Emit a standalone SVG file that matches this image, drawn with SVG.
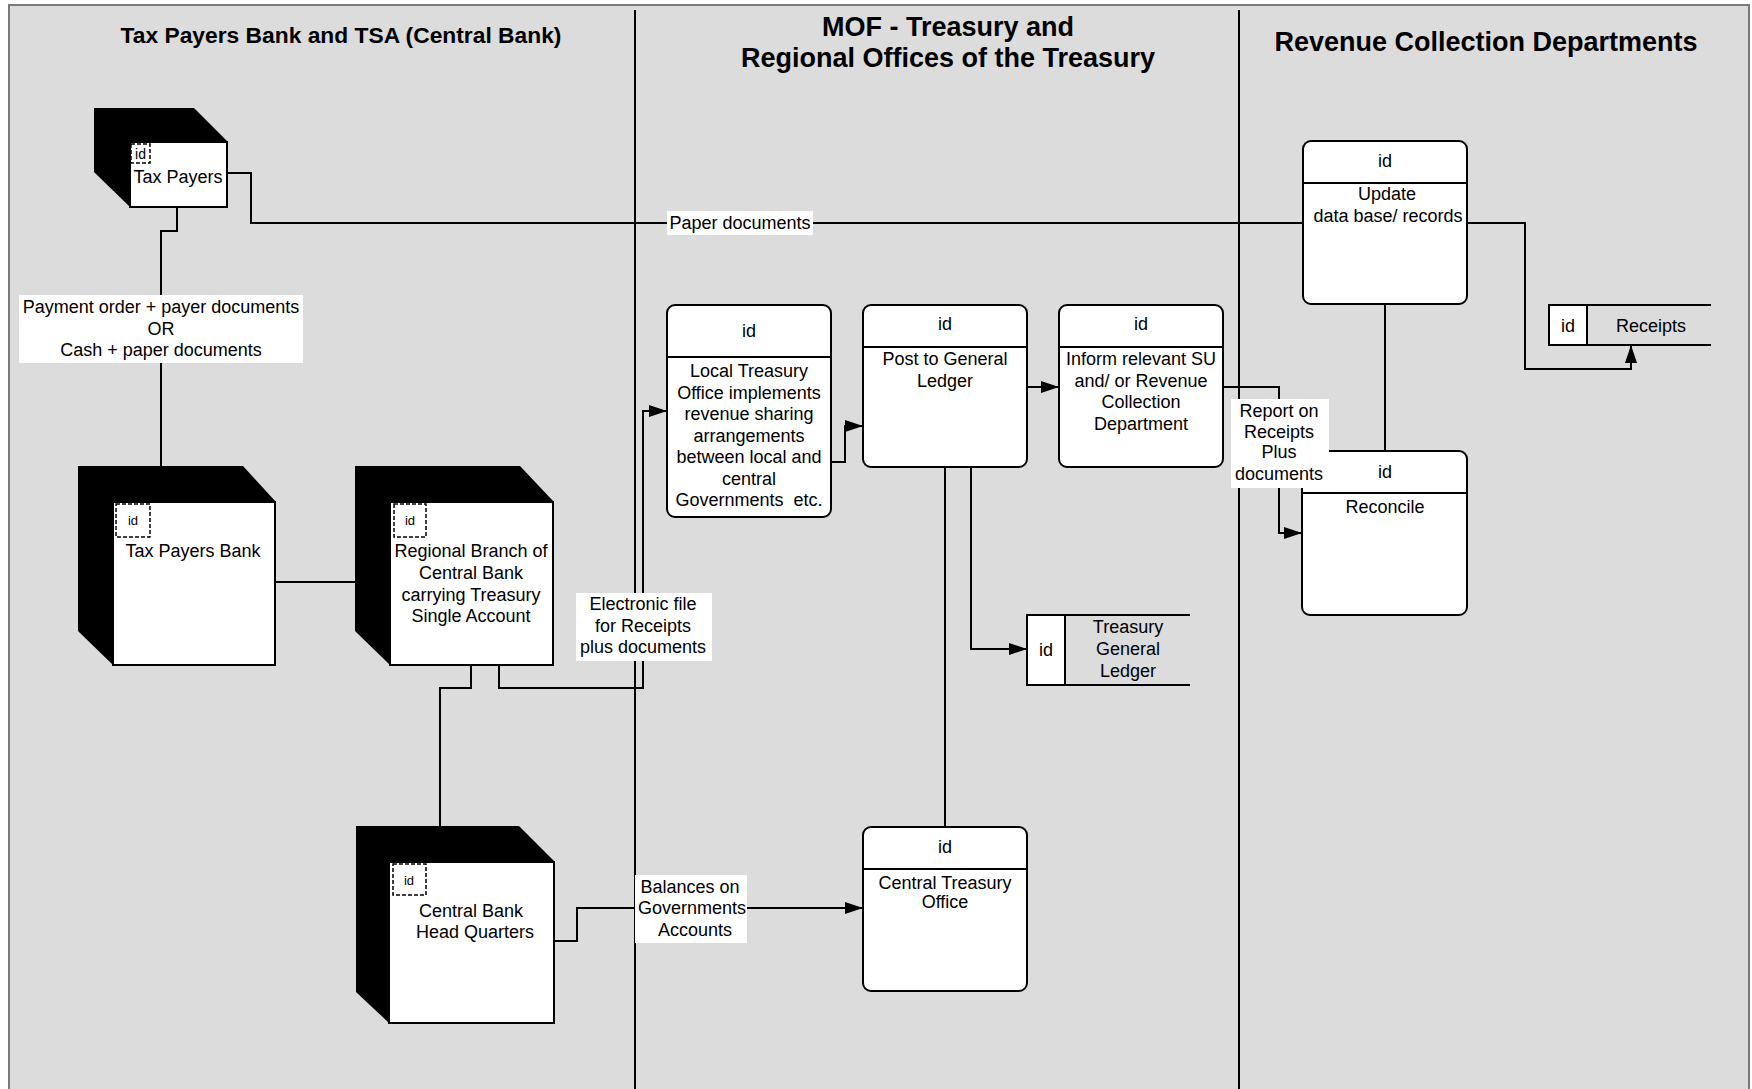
<svg xmlns="http://www.w3.org/2000/svg" width="1752" height="1089" viewBox="0 0 1752 1089">
<defs>
<style>
text{font-family:"Liberation Sans",Arial,sans-serif;font-size:18px;fill:#000;text-anchor:middle}
.title{font-weight:bold;font-size:27px}
.proc{fill:#fff;stroke:#000;stroke-width:2}
.box{fill:#fff;stroke:#000;stroke-width:2}
.shadow{fill:#000}
.idbox{fill:none;stroke:#000;stroke-width:1.5;stroke-dasharray:4 2}
.sid{font-size:13px}
.ln{fill:none;stroke:#000;stroke-width:2}
.lbl{fill:#fff}
.lane{stroke:#000;stroke-width:2}
</style>
<marker id="arr" markerUnits="userSpaceOnUse" markerWidth="18" markerHeight="12" refX="18" refY="6" orient="auto">
<path d="M0,0 L18,6 L0,12 Z" fill="#000"/>
</marker>
</defs>
<rect x="0" y="0" width="1752" height="1089" fill="#fff"/>
<rect x="9" y="5" width="1740" height="1100" fill="#dcdcdc" stroke="#7a7a7a" stroke-width="2"/>
<g id="lanes">
<line class="lane" x1="635" y1="10" x2="635" y2="1089"/>
<line class="lane" x1="1239" y1="10" x2="1239" y2="1089"/>
<text class="title" x="341" y="43" style="font-size:22.8px">Tax Payers Bank and TSA (Central Bank)</text>
<text class="title" x="948" y="36">MOF - Treasury and</text>
<text class="title" x="948" y="67">Regional Offices of the Treasury</text>
<text class="title" x="1486" y="51">Revenue Collection Departments</text>
</g>
<g id="connectors">
<path class="ln" d="M177,207 V231 H161 V466"/>
<path class="ln" d="M227,173 H251 V223 H1303"/>
<path class="ln" d="M275,582 H355"/>
<path class="ln" d="M471,665 V688 H440 V826"/>
<path class="ln" d="M499,665 V688 H643 V411 H667" marker-end="url(#arr)"/>
<path class="ln" d="M554,941 H577 V908 H863" marker-end="url(#arr)"/>
<path class="ln" d="M831,462 H845 V426 H863" marker-end="url(#arr)"/>
<path class="ln" d="M1027,387 H1059" marker-end="url(#arr)"/>
<path class="ln" d="M971,467 V649 H1027" marker-end="url(#arr)"/>
<path class="ln" d="M945,467 V827"/>
<path class="ln" d="M1223,387 H1279 V533 H1302" marker-end="url(#arr)"/>
<path class="ln" d="M1385,304 V451"/>
<path class="ln" d="M1467,223 H1525 V369 H1631 V345" marker-end="url(#arr)"/>
</g>
<g id="tax-payers">
<polygon class="shadow" points="94,108 194,108 228,142 228,207 130,207 94,172"/>
<rect class="box" x="130" y="142" width="97" height="65"/>
<rect class="idbox" x="131" y="144" width="19" height="19"/>
<text x="140.5" y="159" style="font-size:14px">id</text>
<text x="178" y="183">Tax Payers</text>
</g>
<g id="tax-payers-bank">
<polygon class="shadow" points="78,466 243,466 276,502 276,665 113,665 78,631"/>
<rect class="box" x="113" y="502" width="162" height="163"/>
<rect class="idbox" x="116" y="504" width="34" height="33"/>
<text class="sid" x="133" y="525">id</text>
<text x="193" y="557">Tax Payers Bank</text>
</g>
<g id="regional-branch">
<polygon class="shadow" points="355,466 520,466 554,502 554,665 390,665 355,631"/>
<rect class="box" x="390" y="502" width="163" height="163"/>
<rect class="idbox" x="394" y="504" width="32" height="33"/>
<text class="sid" x="410" y="525">id</text>
<text x="471" y="557">Regional Branch of</text>
<text x="471" y="579">Central Bank</text>
<text x="471" y="601">carrying Treasury</text>
<text x="471" y="622">Single Account</text>
</g>
<g id="central-bank-hq">
<polygon class="shadow" points="356,826 519,826 555,862 555,1023 389,1023 356,992"/>
<rect class="box" x="389" y="862" width="165" height="161"/>
<rect class="idbox" x="393" y="864" width="33" height="31"/>
<text class="sid" x="409" y="885">id</text>
<text x="471" y="917">Central Bank</text>
<text x="475" y="938">Head Quarters</text>
</g>
<g id="local-treasury">
<rect class="proc" x="667" y="305" width="164" height="212" rx="8"/>
<line class="ln" x1="667" y1="357" x2="831" y2="357"/>
<text x="749" y="337">id</text>
<text x="749" y="377">Local Treasury</text>
<text x="749" y="398.5">Office implements</text>
<text x="749" y="420">revenue sharing</text>
<text x="749" y="441.5">arrangements</text>
<text x="749" y="463">between local and</text>
<text x="749" y="484.5">central</text>
<text x="749" y="506" xml:space="preserve">Governments  etc.</text>
</g>
<g id="post-gl">
<rect class="proc" x="863" y="305" width="164" height="162" rx="8"/>
<line class="ln" x1="863" y1="347" x2="1027" y2="347"/>
<text x="945" y="330">id</text>
<text x="945" y="365">Post to General</text>
<text x="945" y="387">Ledger</text>
</g>
<g id="inform">
<rect class="proc" x="1059" y="305" width="164" height="162" rx="8"/>
<line class="ln" x1="1059" y1="347" x2="1223" y2="347"/>
<text x="1141" y="330">id</text>
<text x="1141" y="365">Inform relevant SU</text>
<text x="1141" y="387">and/ or Revenue</text>
<text x="1141" y="408">Collection</text>
<text x="1141" y="430">Department</text>
</g>
<g id="treasury-gl">
<rect x="1027" y="615" width="38" height="70" fill="#fff"/>
<path class="ln" d="M1190,615 H1027 V685 H1190 M1065,615 V685"/>
<text x="1046" y="656">id</text>
<text x="1128" y="633">Treasury</text>
<text x="1128" y="655">General</text>
<text x="1128" y="677">Ledger</text>
</g>
<g id="central-treasury-office">
<rect class="proc" x="863" y="827" width="164" height="164" rx="8"/>
<line class="ln" x1="863" y1="869" x2="1027" y2="869"/>
<text x="945" y="853">id</text>
<text x="945" y="889">Central Treasury</text>
<text x="945" y="908">Office</text>
</g>
<g id="update">
<rect class="proc" x="1303" y="141" width="164" height="163" rx="8"/>
<line class="ln" x1="1303" y1="183" x2="1467" y2="183"/>
<text x="1385" y="167">id</text>
<text x="1387" y="200">Update</text>
<text x="1388" y="222">data base/ records</text>
</g>
<g id="receipts">
<rect x="1549" y="305" width="38" height="40" fill="#fff"/>
<path class="ln" d="M1711,305 H1549 V345 H1711 M1587,305 V345"/>
<text x="1568" y="332">id</text>
<text x="1651" y="332">Receipts</text>
</g>
<g id="reconcile">
<rect class="proc" x="1302" y="451" width="165" height="164" rx="8"/>
<line class="ln" x1="1302" y1="493" x2="1467" y2="493"/>
<text x="1385" y="478">id</text>
<text x="1385" y="513">Reconcile</text>
</g>
<g id="labels">
<rect class="lbl" x="19" y="295" width="284" height="68"/>
<text x="161" y="313">Payment order + payer documents</text>
<text x="161" y="335">OR</text>
<text x="161" y="356">Cash + paper documents</text>
<rect class="lbl" x="667" y="211" width="146" height="24"/>
<text x="740" y="229">Paper documents</text>
<rect class="lbl" x="576" y="593" width="136" height="68"/>
<text x="643" y="610">Electronic file</text>
<text x="643" y="632">for Receipts</text>
<text x="643" y="653">plus documents</text>
<rect class="lbl" x="635" y="875" width="112" height="68"/>
<text x="690" y="893">Balances on</text>
<text x="692" y="914">Governments</text>
<text x="695" y="936">Accounts</text>
<rect class="lbl" x="1231" y="399" width="98" height="89"/>
<text x="1279" y="417">Report on</text>
<text x="1279" y="438">Receipts</text>
<text x="1279" y="458">Plus</text>
<text x="1279" y="480">documents</text>
</g>
</svg>
